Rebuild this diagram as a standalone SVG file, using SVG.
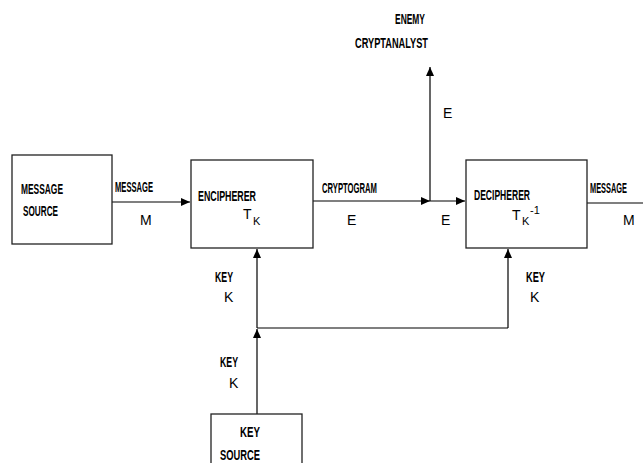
<svg xmlns="http://www.w3.org/2000/svg" width="643" height="463" viewBox="0 0 643 463">
<style>
.box{fill:#fff;stroke:#222;stroke-width:1.3}
.ln{fill:none;stroke:#000;stroke-width:1.2}
text{font-family:"Liberation Sans",Arial,sans-serif;fill:#000}
.c{font-size:15px;font-weight:bold}
.l{font-size:14px}
.s{font-size:11px}
</style>
<defs>
<marker id="ah" markerUnits="userSpaceOnUse" markerWidth="10" markerHeight="9" refX="9" refY="4" orient="auto">
<path d="M0,0 L9,4 L0,8 z" fill="#000"/>
</marker>
</defs>
<g id="connectors">
<line class="ln" x1="112" y1="202" x2="190" y2="202" marker-end="url(#ah)"/>
<line class="ln" x1="313" y1="201" x2="430" y2="201" marker-end="url(#ah)"/>
<line class="ln" x1="430" y1="201" x2="465" y2="201" marker-end="url(#ah)"/>
<line class="ln" x1="430" y1="201" x2="430" y2="67" marker-end="url(#ah)"/>
<line class="ln" x1="587" y1="203" x2="643" y2="203"/>
<line class="ln" x1="257" y1="414" x2="257" y2="329" marker-end="url(#ah)"/>
<line class="ln" x1="257" y1="328" x2="257" y2="249" marker-end="url(#ah)"/>
<line class="ln" x1="257" y1="328" x2="508" y2="328"/>
<line class="ln" x1="508" y1="328" x2="508" y2="249" marker-end="url(#ah)"/>
<text class="c" x="115" y="192" textLength="38" lengthAdjust="spacingAndGlyphs">MESSAGE</text>
<text class="l" x="140" y="225">M</text>
<text class="c" x="322" y="193" textLength="55" lengthAdjust="spacingAndGlyphs">CRYPTOGRAM</text>
<text class="l" x="347" y="225">E</text>
<text class="l" x="441" y="225">E</text>
<text class="l" x="443" y="118">E</text>
<text class="c" x="590" y="193" textLength="37" lengthAdjust="spacingAndGlyphs">MESSAGE</text>
<text class="l" x="623" y="225">M</text>
<text class="c" x="215" y="282" textLength="18" lengthAdjust="spacingAndGlyphs">KEY</text>
<text class="l" x="224" y="302">K</text>
<text class="c" x="220" y="367" textLength="18" lengthAdjust="spacingAndGlyphs">KEY</text>
<text class="l" x="229" y="388">K</text>
<text class="c" x="526" y="282" textLength="19" lengthAdjust="spacingAndGlyphs">KEY</text>
<text class="l" x="530" y="302">K</text>
</g>
<g id="enemy">
<text class="c" x="395" y="24" textLength="30" lengthAdjust="spacingAndGlyphs">ENEMY</text>
<text class="c" x="355" y="48" textLength="73" lengthAdjust="spacingAndGlyphs">CRYPTANALYST</text>
</g>
<g id="message-source">
<rect class="box" x="12" y="155" width="100" height="89"/>
<text class="c" x="21" y="194" textLength="42" lengthAdjust="spacingAndGlyphs">MESSAGE</text>
<text class="c" x="23" y="216" textLength="35" lengthAdjust="spacingAndGlyphs">SOURCE</text>
</g>
<g id="encipherer">
<rect class="box" x="191" y="160" width="122" height="88"/>
<text class="c" x="198" y="201" textLength="58" lengthAdjust="spacingAndGlyphs">ENCIPHERER</text>
<text class="l" x="243" y="219" font-size="15">T</text>
<text class="s" x="253" y="225">K</text>
</g>
<g id="decipherer">
<rect class="box" x="466" y="160" width="121" height="88"/>
<text class="c" x="474" y="200" textLength="56" lengthAdjust="spacingAndGlyphs">DECIPHERER</text>
<text class="l" x="512" y="220" font-size="15">T</text>
<text class="s" x="522" y="225">K</text>
<text class="s" x="530" y="214" font-size="10">-1</text>
</g>
<g id="key-source">
<rect class="box" x="211" y="414" width="91" height="60"/>
<text class="c" x="240" y="437" textLength="20" lengthAdjust="spacingAndGlyphs">KEY</text>
<text class="c" x="220" y="460" textLength="40" lengthAdjust="spacingAndGlyphs">SOURCE</text>
</g>
</svg>
